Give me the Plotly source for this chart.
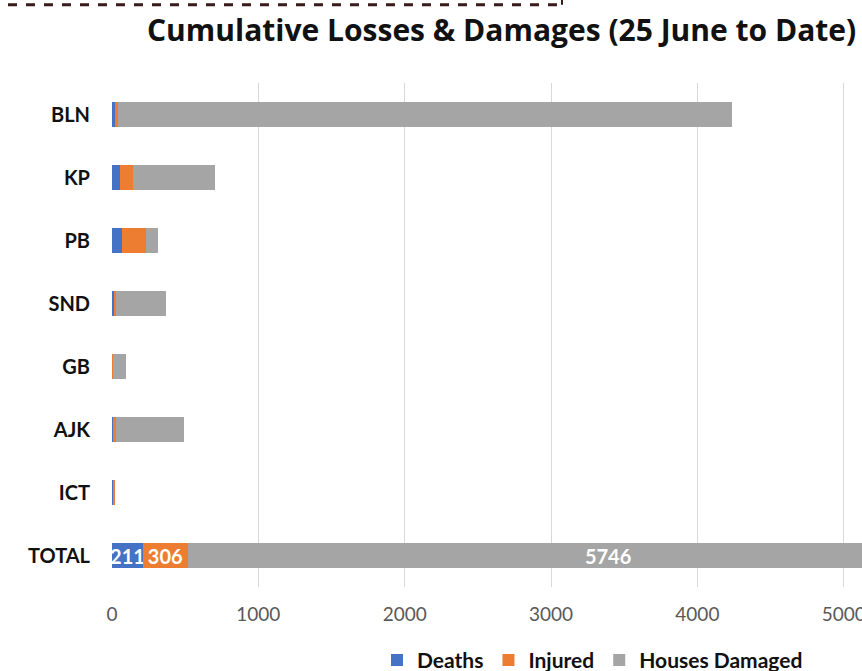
import plotly.graph_objects as go

categories = ["BLN", "KP", "PB", "SND", "GB", "AJK", "ICT", "TOTAL"]
deaths = [20, 52, 68, 16, 3, 9, 10, 211]
injured = [20, 94, 161, 9, 2, 20, 8, 306]
houses = [4197, 560, 82, 346, 91, 460, 0, 5746]
x_ticks = [0, 1000, 2000, 3000, 4000, 5000]

series = [
    ("Deaths", deaths, "#4472C4"),
    ("Injured", injured, "#ED7D31"),
    ("Houses Damaged", houses, "#A5A5A5"),
]

fig = go.Figure()
for name, vals, color in series:
    labels = [str(v) if c == "TOTAL" else "" for c, v in zip(categories, vals)]
    fig.add_trace(go.Bar(
        name=name, y=categories, x=vals, orientation="h",
        marker=dict(color=color, line=dict(width=0)),
        text=labels, textposition="inside", insidetextanchor="middle",
        textangle=0, constraintext="none",
        textfont=dict(family="Lato", size=20, color="white", weight="bold"),
    ))

W, H = 862, 671
L, R, T, B = 112, 0, 82.5, 671 - 587.5
PW, PH = W - L - R, H - T - B


def px_x(sx):
    return (sx - L) / PW


def px_y(sy):
    return 1 - (sy - T) / PH


fig.update_layout(
    width=W, height=H,
    margin=dict(l=L, r=R, t=T, b=B, autoexpand=False),
    barmode="stack", bargap=0.6,
    plot_bgcolor="white", paper_bgcolor="white",
    showlegend=True,
    legend=dict(orientation="h", x=px_x(377), xanchor="left",
                y=px_y(661), yanchor="middle",
                font=dict(family="Lato", size=21, color="#111111", weight="bold"),
                itemwidth=30, traceorder="normal"),
    xaxis=dict(range=[0, 5125], tickvals=x_ticks, showgrid=True,
               gridcolor="#d9d9d9", gridwidth=1, zeroline=False,
               showline=False, ticks="", ticklabelstandoff=14,
               automargin=False, ticklabeloverflow="allow",
               tickfont=dict(family="Lato", size=19, color="#595959")),
    yaxis=dict(autorange="reversed", showgrid=False, zeroline=False,
               showline=False, ticks="", ticklabelstandoff=21,
               automargin=False,
               tickfont=dict(family="Lato", size=20, color="#111111", weight="bold")),
    font=dict(family="Lato"),
)

fig.add_annotation(
    text="Cumulative Losses & Damages (25 June to Date)",
    xref="paper", yref="paper",
    x=px_x(145), xanchor="left",
    y=px_y(29), yanchor="middle",
    showarrow=False,
    font=dict(family="Open Sans", size=30, color="#111111", weight="bold"),
)

# dashed border fragment at top-left
yl = px_y(4)
fig.add_shape(type="line", xref="paper", yref="paper",
              x0=px_x(-10), x1=px_x(562), y0=yl, y1=yl,
              line=dict(color="#3a1a1a", width=3, dash="dash"))
fig.add_shape(type="line", xref="paper", yref="paper",
              x0=px_x(562), x1=px_x(562), y0=yl, y1=px_y(-10),
              line=dict(color="#3a1a1a", width=2))

# remove the default page margin so the 862x671 figure fills the window exactly
fig.write_html("out.html", config={"displayModeBar": False},
               post_script="document.body.style.margin='0';")
